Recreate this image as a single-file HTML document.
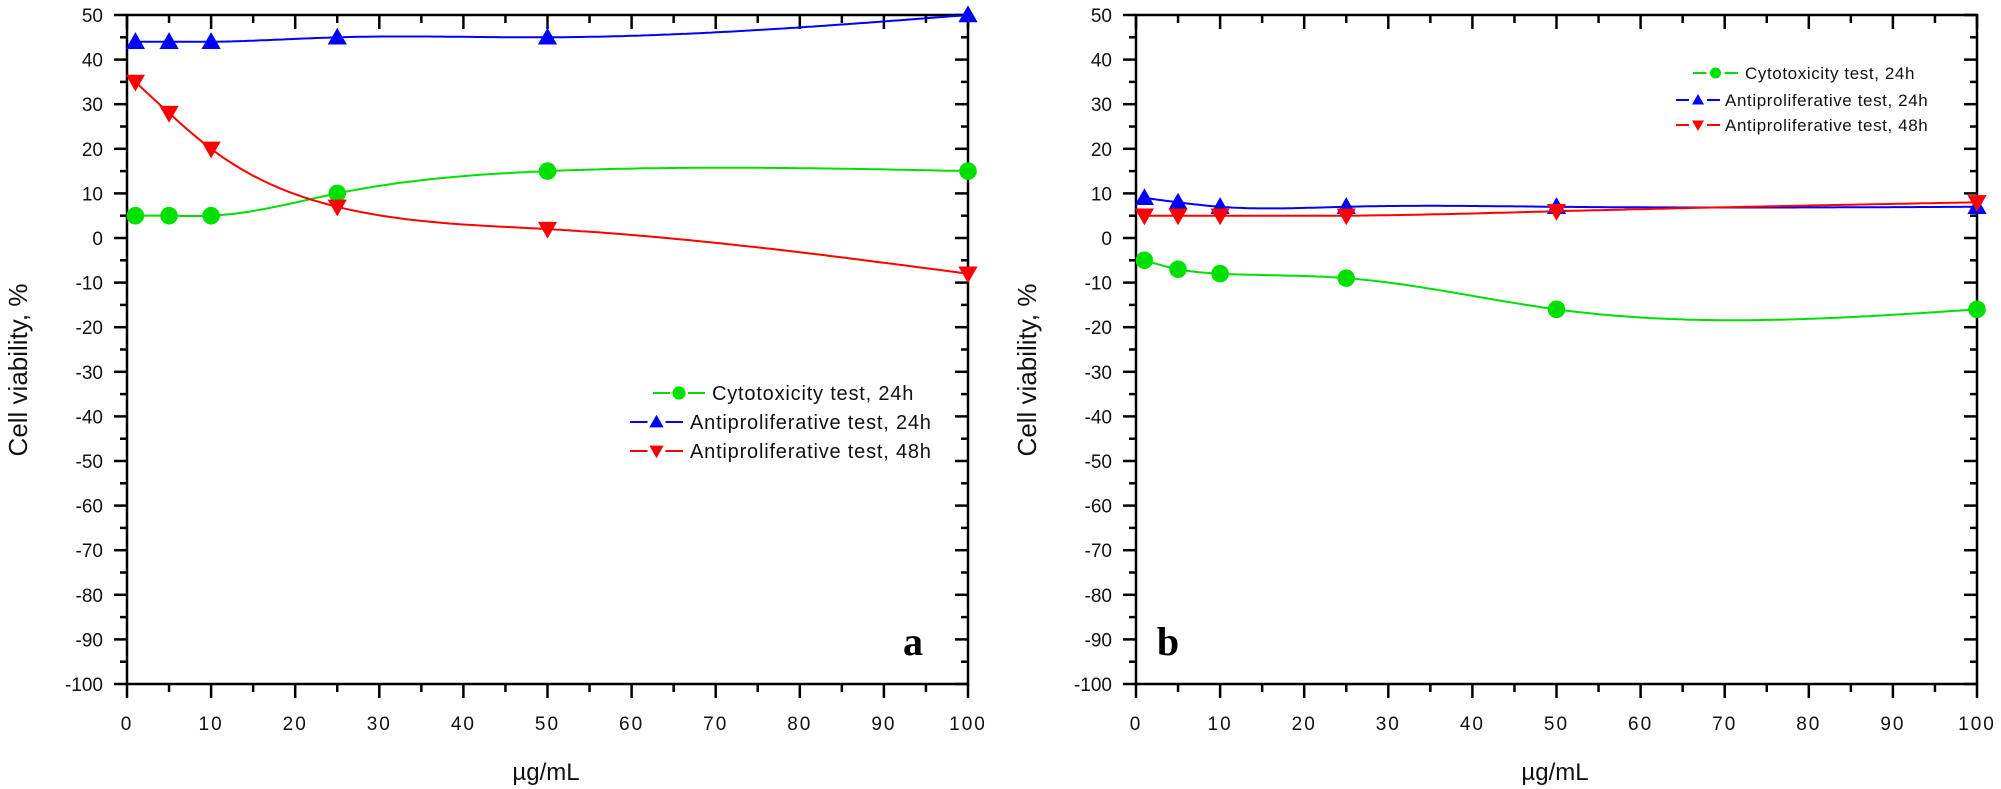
<!DOCTYPE html>
<html><head><meta charset="utf-8"><style>
html,body{margin:0;padding:0;background:#fff;}
svg{display:block;font-family:"Liberation Sans",Arial,sans-serif;}
</style></head><body>
<svg id="fig" width="2001" height="789" viewBox="0 0 2001 789" xmlns="http://www.w3.org/2000/svg"></svg>
<script>
const xValues=[1,5,10,25,50,100];
const aCyto24=[5,5,5,10,15,15];
const aAnti24=[44,44,44,45,45,50];
const aAnti48=[35,28,20,7,2,-8];
const bCyto24=[-5,-7,-8,-9,-16,-16];
const bAnti24=[9,8,7,7,7,7];
const bAnti48=[5,5,5,5,6,8];
const yTicks=[50,40,30,20,10,0,-10,-20,-30,-40,-50,-60,-70,-80,-90,-100];
const xTicks=[0,10,20,30,40,50,60,70,80,90,100];
const legendLabels=["Cytotoxicity test, 24h","Antiproliferative test, 24h","Antiproliferative test, 48h"];

const NS="http://www.w3.org/2000/svg";
const svg=document.getElementById('fig');
function mk(tag,attrs,parent){const e=document.createElementNS(NS,tag);for(const k in attrs)e.setAttribute(k,attrs[k]);(parent||svg).appendChild(e);return e;}

function spline(xs,ys){
  const n=xs.length,h=[],al=[],l=[1],mu=[0],z=[0],c=new Array(n).fill(0),b=[],d=[];
  for(let i=0;i<n-1;i++)h.push(xs[i+1]-xs[i]);
  for(let i=1;i<n-1;i++)al[i]=3/h[i]*(ys[i+1]-ys[i])-3/h[i-1]*(ys[i]-ys[i-1]);
  for(let i=1;i<n-1;i++){l[i]=2*(xs[i+1]-xs[i-1])-h[i-1]*mu[i-1];mu[i]=h[i]/l[i];z[i]=(al[i]-h[i-1]*z[i-1])/l[i];}
  for(let j=n-2;j>=0;j--){c[j]=(j===n-2?0:z[j])-mu[j]*c[j+1];if(j===0)c[0]=0;}
  // recompute properly
  c.fill(0);
  for(let j=n-2;j>=1;j--){c[j]=z[j]-mu[j]*c[j+1];}
  for(let j=0;j<n-1;j++){b[j]=(ys[j+1]-ys[j])/h[j]-h[j]*(c[j+1]+2*c[j])/3;d[j]=(c[j+1]-c[j])/(3*h[j]);}
  return x=>{let j=0;while(j<n-2&&x>xs[j+1])j++;const t=x-xs[j];return ys[j]+b[j]*t+c[j]*t*t+d[j]*t*t*t;};
}

function panel(id,X0,series,legend,letter){
  const X1=X0+841,Y0=15,Y1=684;
  const sx=v=>X0+(v/100)*(X1-X0);
  const sy=v=>Y0+(50-v)/150*(Y1-Y0);
  const g=mk('g',{});
  
  
  const ax=mk('g',{stroke:'#000','stroke-width':2.5},g);
  
  
  mk('rect',{x:X0,y:Y0,width:X1-X0,height:Y1-Y0,fill:'none'},ax);
  for(let v=-100;v<=50;v+=5){
    const maj=v%10===0,y=sy(v);
    mk('line',{x1:X0-(maj?13:7),x2:X0,y1:y,y2:y},ax);
    mk('line',{x1:X1,x2:X1-(maj?13:7),y1:y,y2:y},ax);
  }
  for(let v=0;v<=100;v+=5){
    const maj=v%10===0,x=sx(v);
    mk('line',{x1:x,x2:x,y1:Y1,y2:Y1+(maj?14:8)},ax);
    mk('line',{x1:x,x2:x,y1:Y0,y2:Y0+(maj?14:8)},ax);
  }
  yTicks.forEach(v=>{const t=mk('text',{x:X0-24,y:sy(v)+7,'text-anchor':'end','font-size':19,fill:'#111'},g);t.textContent=v;
    });
  xTicks.forEach(v=>{const t=mk('text',{x:sx(v),y:730,'text-anchor':'middle','font-size':19,fill:'#111','letter-spacing':2},g);t.textContent=v;
    });
  const yt=mk('text',{x:0,y:0,transform:`translate(${X0-100},370) rotate(-90)`,'text-anchor':'middle','font-size':26,fill:'#111'},g);
  yt.textContent='Cell viability, %';
  
  const xt=mk('text',{x:X0+419,y:780,'text-anchor':'middle','font-size':24,fill:'#111'},g);
  xt.textContent='\u00b5g/mL';
  
  const lt=mk('text',{x:letter.x,y:655,'text-anchor':'middle','font-size':40,'font-weight':'bold','font-family':'"Liberation Serif",serif',fill:'#000'},g);
  lt.textContent=letter.t;
  

  function marker(kind,x,y,col,s,parent){
    if(kind==='c')return mk('circle',{cx:x,cy:y,r:s*0.55,fill:col},parent);
    if(kind==='u')return mk('polygon',{points:`${x-s*0.6},${y+s*0.45} ${x+s*0.6},${y+s*0.45} ${x},${y-s*0.6}`,fill:col},parent);
    return mk('polygon',{points:`${x-s*0.6},${y-s*0.45} ${x+s*0.6},${y-s*0.45} ${x},${y+s*0.6}`,fill:col},parent);
  }
  series.forEach(s=>{
    const sg=mk('g',{},g);
    
    
    const f=spline(xValues,s.data);
    let d='';
    for(let x=xValues[0];x<=xValues[xValues.length-1]+1e-9;x+=0.5){d+=(d?'L':'M')+sx(x).toFixed(1)+','+sy(f(x)).toFixed(1);}
    mk('path',{d,fill:'none',stroke:s.col,'stroke-width':2},sg);
    xValues.forEach((x,i)=>{const m=marker(s.kind,sx(x),sy(s.data[i]),s.col,16,sg);
      });
  });
  const lg=mk('g',{},g);
  
  
  series.forEach((s,i)=>{
    const L=legend.rows[i];
    const eg=mk('g',{},lg);
    
    
    mk('line',{x1:L.x1,x2:L.x2,y1:L.y,y2:L.y,stroke:s.col,'stroke-width':2},eg);
    mk('rect',{x:(L.x1+L.x2)/2-9,y:L.y-6,width:18,height:12,fill:'#fff'},eg);
    marker(s.kind,(L.x1+L.x2)/2,L.y,s.col,legend.ms,eg);
    const t=mk('text',{x:L.tx,y:L.y+legend.fs*0.36,'font-size':legend.fs,fill:'#111','letter-spacing':legend.ls},eg);
    t.textContent=legendLabels[i];
  });
}

panel('panel-a',127,[
  {name:'series-cytotoxicity-24h',data:aCyto24,col:'#00e000',kind:'c'},
  {name:'series-antiproliferative-24h',data:aAnti24,col:'#0000ff',kind:'u'},
  {name:'series-antiproliferative-48h',data:aAnti48,col:'#ff0000',kind:'d'}],
  {fs:20,ms:12,ls:0.8,rows:[{x1:653,x2:705,y:393,tx:712},{x1:630,x2:683,y:422,tx:690},{x1:630,x2:683,y:451,tx:690}]},
  {t:'a',x:913});
panel('panel-b',1136,[
  {name:'series-cytotoxicity-24h',data:bCyto24,col:'#00e000',kind:'c'},
  {name:'series-antiproliferative-24h',data:bAnti24,col:'#0000ff',kind:'u'},
  {name:'series-antiproliferative-48h',data:bAnti48,col:'#ff0000',kind:'d'}],
  {fs:17,ms:10,ls:0.6,rows:[{x1:1693,x2:1738,y:73,tx:1745},{x1:1676,x2:1720,y:100,tx:1725},{x1:1676,x2:1720,y:125,tx:1725}]},
  {t:'b',x:1168});
</script>
</body></html>
